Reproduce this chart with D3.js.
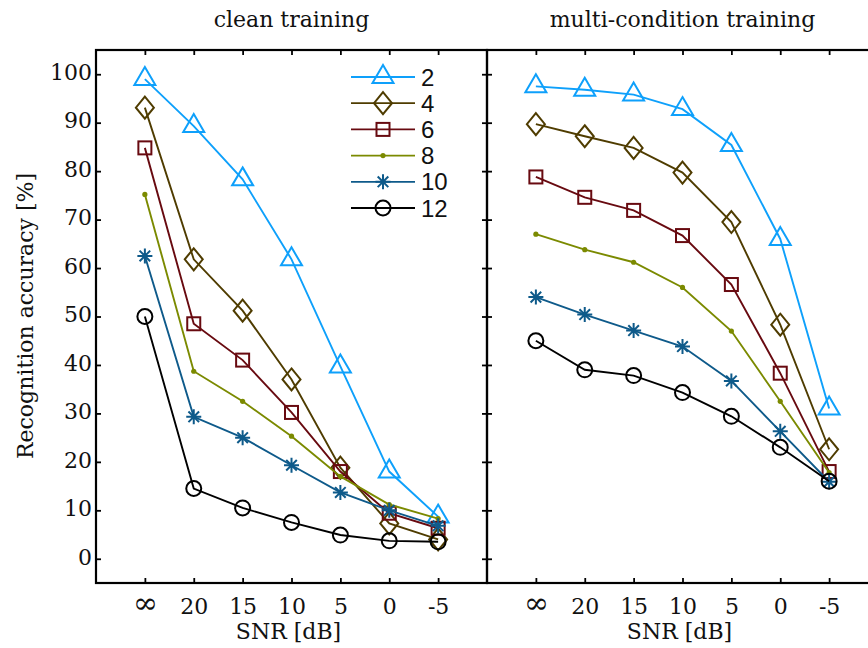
<!DOCTYPE html>
<html>
<head>
<meta charset="utf-8">
<script src="https://cdn.jsdelivr.net/npm/d3@7"></script>
<style>
  html, body { margin: 0; padding: 0; background: #fff; }
  svg { display: block; }
</style>
</head>
<body>
<script>
// SNR conditions along the x axis and accuracy ticks along the y axis
const snrLabels = ["∞", "20", "15", "10", "5", "0", "-5"];
const yTicks = [0, 10, 20, 30, 40, 50, 60, 70, 80, 90, 100];
const seriesNames = ["2", "4", "6", "8", "10", "12"];
const seriesColors = ["#0ea0fb", "#4f3c00", "#680a10", "#7b8a00", "#0e5a8a", "#000000"];
const seriesMarkers = ["triangle", "diamond", "square", "dot", "asterisk", "circle"];

// Recognition accuracy [%] - clean training
const clean2  = [99.0, 89.3, 78.3, 61.8, 39.7, 18.0, 8.7];
const clean4  = [93.1, 61.8, 51.2, 37.0, 18.8, 7.3, 4.0];
const clean6  = [84.8, 48.5, 41.0, 30.2, 18.0, 9.4, 6.3];
const clean8  = [75.2, 38.7, 32.5, 25.3, 17.0, 11.2, 8.3];
const clean10 = [62.5, 29.3, 25.0, 19.3, 13.7, 10.0, 6.8];
const clean12 = [50.0, 14.5, 10.5, 7.5, 4.9, 3.7, 3.5];

// Recognition accuracy [%] - multi-condition training
const multi2  = [97.5, 96.8, 95.8, 92.8, 85.4, 66.0, 31.0];
const multi4  = [89.7, 87.2, 84.8, 79.7, 69.5, 48.3, 22.6];
const multi6  = [78.8, 74.6, 71.9, 66.7, 56.6, 38.3, 18.0];
const multi8  = [67.0, 63.8, 61.2, 56.0, 47.0, 32.5, 17.8];
const multi10 = [54.0, 50.4, 47.1, 43.8, 36.7, 26.3, 15.9];
const multi12 = [45.0, 39.0, 37.8, 34.3, 29.4, 23.0, 16.0];

const panels = [
  { title: "clean training", series: [clean2, clean4, clean6, clean8, clean10, clean12], left: 96, labels: true, legend: true },
  { title: "multi-condition training", series: [multi2, multi4, multi6, multi8, multi10, multi12], left: 487, labels: false, legend: false }
];

const W = 868, H = 648;
const plotTop = 50, plotBottom = 583, plotWidth = 391;
const serif = "'DejaVu Serif', serif";

const svg = d3.select("body").append("svg")
  .attr("width", W).attr("height", H)
  .attr("viewBox", `0 0 ${W} ${H}`);

const y = d3.scaleLinear().domain([-5, 105]).range([plotBottom, plotTop]);

// Marker glyphs drawn around (0,0)
function drawMarker(g, type, color) {
  const sw = 2;
  if (type === "triangle") {
    g.append("path").attr("d", "M0,-12 L10.5,6 L-10.5,6 Z")
      .attr("fill", "none").attr("stroke", color).attr("stroke-width", sw);
  } else if (type === "diamond") {
    g.append("path").attr("d", "M0,-11 L9,0 L0,11 L-9,0 Z")
      .attr("fill", "none").attr("stroke", color).attr("stroke-width", sw);
  } else if (type === "square") {
    g.append("rect").attr("x", -6.5).attr("y", -6.5).attr("width", 13).attr("height", 13)
      .attr("fill", "none").attr("stroke", color).attr("stroke-width", sw);
  } else if (type === "dot") {
    g.append("circle").attr("r", 2.6).attr("fill", color);
  } else if (type === "asterisk") {
    const r = 7.5, d = r * Math.SQRT1_2;
    g.append("path")
      .attr("d", `M${-r},0L${r},0M0,${-r}L0,${r}M${-d},${-d}L${d},${d}M${-d},${d}L${d},${-d}`)
      .attr("stroke", color).attr("stroke-width", sw).attr("fill", "none");
  } else if (type === "circle") {
    g.append("circle").attr("r", 7.5)
      .attr("fill", "none").attr("stroke", color).attr("stroke-width", sw);
  }
}

panels.forEach(p => {
  const x = d3.scalePoint().domain(snrLabels).range([p.left, p.left + plotWidth]).padding(1);
  const g = svg.append("g");

  // title
  g.append("text")
    .attr("x", p.left + plotWidth / 2).attr("y", 27)
    .attr("text-anchor", "middle")
    .attr("font-family", serif).attr("font-size", 22).attr("fill", "#111")
    .text(p.title);

  // axes with inward ticks
  const bottom = g.append("g").attr("transform", `translate(0,${plotBottom})`)
    .call(d3.axisBottom(x).tickSize(-5).tickPadding(15));
  const top = g.append("g").attr("transform", `translate(0,${plotTop})`)
    .call(d3.axisTop(x).tickSize(-5).tickFormat(""));
  const leftAx = g.append("g").attr("transform", `translate(${p.left},0)`)
    .call(d3.axisLeft(y).tickValues(yTicks).tickSize(-5).tickPadding(4)
      .tickFormat(p.labels ? d3.format("d") : ""));
  const rightAx = g.append("g").attr("transform", `translate(${p.left + plotWidth},0)`)
    .call(d3.axisRight(y).tickValues(yTicks).tickSize(-5).tickFormat(""));

  [bottom, top, leftAx, rightAx].forEach(a => {
    a.select(".domain").remove();
    a.selectAll(".tick line").attr("stroke", "#000").attr("stroke-width", 1.8);
    a.selectAll(".tick text").attr("fill", "#111").attr("font-family", serif).attr("font-size", 22);
    a.attr("font-family", serif).attr("font-size", 22);
  });
  leftAx.selectAll(".tick text").attr("dy", "0.24em");
  // the infinity sign is set larger so it reads like the other labels
  bottom.selectAll(".tick text").filter(d => d === "∞")
    .attr("font-size", 30).attr("dy", "0.5em");

  // frame
  g.append("rect")
    .attr("x", p.left).attr("y", plotTop)
    .attr("width", plotWidth).attr("height", plotBottom - plotTop)
    .attr("fill", "none").attr("stroke", "#000").attr("stroke-width", 2.2);

  // x-axis label
  g.append("text")
    .attr("x", p.left + plotWidth / 2 - 3).attr("y", 639)
    .attr("text-anchor", "middle")
    .attr("font-family", serif).attr("font-size", 22).attr("fill", "#111")
    .text("SNR [dB]");

  // series
  const line = d3.line().x((d, i) => x(snrLabels[i])).y(d => y(d));
  p.series.forEach((vals, si) => {
    const color = seriesColors[si];
    const sg = g.append("g");
    sg.append("path").datum(vals)
      .attr("d", line)
      .attr("fill", "none").attr("stroke", color).attr("stroke-width", 1.9);
    vals.forEach((v, i) => {
      const mg = sg.append("g").attr("transform", `translate(${x(snrLabels[i])},${y(v)})`);
      drawMarker(mg, seriesMarkers[si], color);
    });
  });

  // legend
  if (p.legend) {
    const lg = g.append("g");
    seriesNames.forEach((name, si) => {
      const ly = 77 + si * 26.2;
      const color = seriesColors[si];
      lg.append("line").attr("x1", 351).attr("x2", 415).attr("y1", ly).attr("y2", ly)
        .attr("stroke", color).attr("stroke-width", 1.8);
      const mg = lg.append("g").attr("transform", `translate(383,${ly})`);
      drawMarker(mg, seriesMarkers[si], color);
      lg.append("text").attr("x", 421).attr("y", ly + 8.5)
        .attr("font-family", "'Liberation Sans', sans-serif").attr("font-size", 24).attr("fill", "#111")
        .text(name);
    });
  }
});

// shared y-axis label
svg.append("text")
  .attr("transform", "translate(33,316) rotate(-90)")
  .attr("text-anchor", "middle")
  .attr("font-family", serif).attr("font-size", 22).attr("fill", "#111")
  .text("Recognition accuracy [%]");
</script>
</body>
</html>
